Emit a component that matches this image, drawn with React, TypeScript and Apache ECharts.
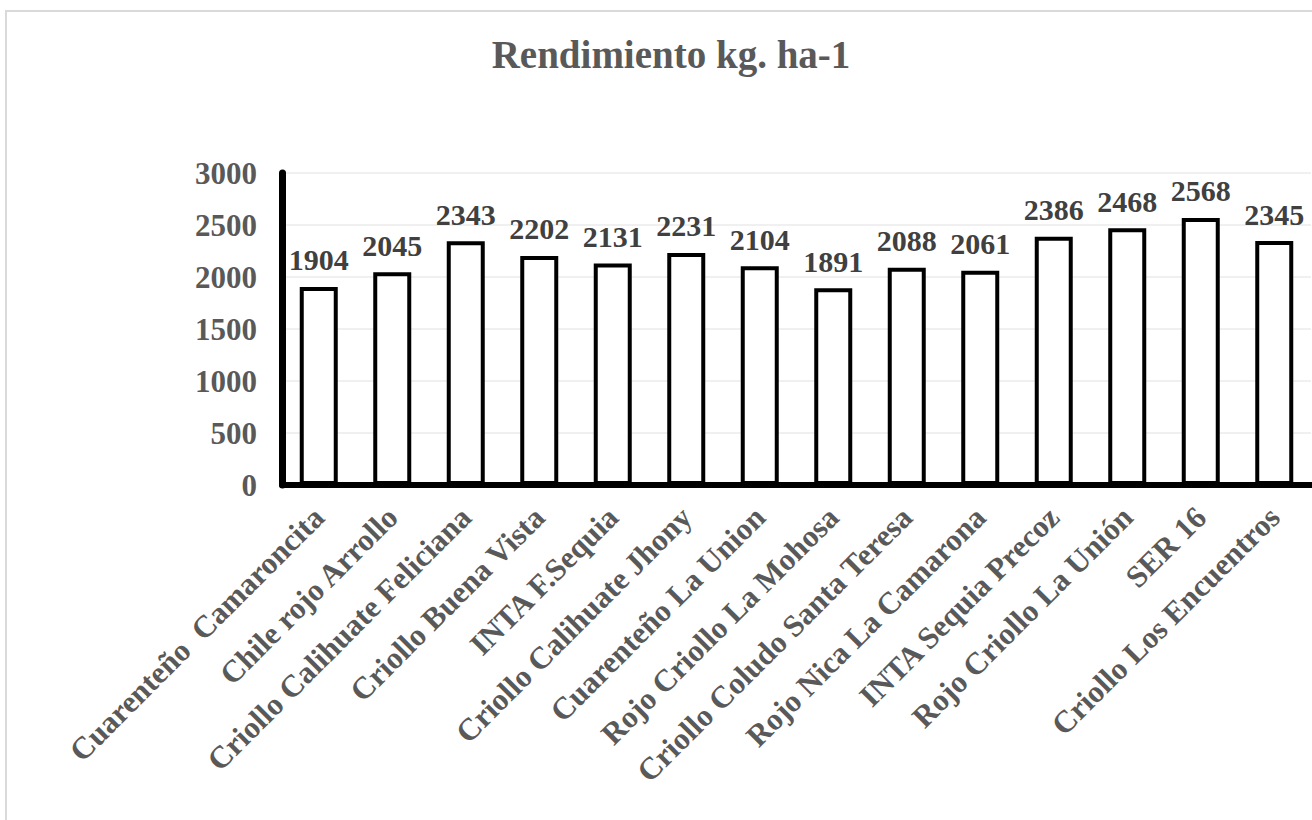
import React, { useEffect, useRef } from "react";
import * as echarts from "echarts";

const titleText = "Rendimiento kg. ha-1";
const categories = [
  "Cuarenteño  Camaroncita",
  "Chile rojo Arrollo",
  "Criollo Calihuate Feliciana",
  "Criollo Buena Vista",
  "INTA F.Sequia",
  "Criollo Calihuate Jhony",
  "Cuarenteño La Union",
  "Rojo Criollo La Mohosa",
  "Criollo Coludo Santa Teresa",
  "Rojo Nica La Camarona",
  "INTA Sequia Precoz",
  "Rojo Criollo La Unión",
  "SER 16",
  "Criollo Los Encuentros",
];
const yieldValues = [1904, 2045, 2343, 2202, 2131, 2231, 2104, 1891, 2088, 2061, 2386, 2468, 2568, 2345];
const yMin = 0;
const yMax = 3000;
const yInterval = 500;

const FONT = '"Liberation Serif", "Times New Roman", serif';

export default function App() {
  const ref = useRef<HTMLDivElement>(null);
  useEffect(() => {
    if (!ref.current) return;
    const chart = echarts.init(ref.current, undefined, { renderer: "svg" });
    chart.setOption({
      animation: false,
      backgroundColor: "#ffffff",
      title: {
        text: titleText,
        left: 666,
        textAlign: "center",
        top: 30,
        textStyle: {
          fontFamily: FONT,
          fontWeight: "bold",
          fontSize: 39,
          color: "#595959",
        },
      },
      graphic: [
        {
          type: "rect",
          silent: true,
          shape: { x: 6, y: 11, width: 1340, height: 840 },
          style: { fill: "none", stroke: "#d9d9d9", lineWidth: 2 },
          z: -10,
        },
      ],
      grid: { left: 282, right: 1, top: 173, bottom: 335, containLabel: false },
      xAxis: {
        type: "category",
        data: categories,
        axisLine: { show: true, lineStyle: { color: "#000000", width: 6 } },
        axisTick: { show: false },
        axisLabel: {
          rotate: 45,
          interval: 0,
          margin: 27,
          fontFamily: FONT,
          fontWeight: "bold",
          fontSize: 31,
          color: "#595959",
        },
        z: 5,
      },
      yAxis: {
        type: "value",
        min: yMin,
        max: yMax,
        interval: yInterval,
        axisLine: { show: true, lineStyle: { color: "#000000", width: 7 } },
        axisTick: { show: false },
        splitLine: { show: true, lineStyle: { color: "#f0f0f0", width: 2 } },
        axisLabel: {
          margin: 25,
          formatter: (v: number) => String(v),
          fontFamily: FONT,
          fontWeight: "bold",
          fontSize: 31,
          color: "#595959",
        },
      },
      series: [
        {
          type: "bar",
          data: yieldValues,
          barWidth: 38,
          itemStyle: { color: "#ffffff", borderColor: "#000000", borderWidth: 4 },
          label: {
            show: true,
            position: "top",
            distance: 12,
            fontFamily: FONT,
            fontWeight: "bold",
            fontSize: 30,
            color: "#404040",
          },
        },
      ],
    });
    return () => chart.dispose();
  }, []);
  return (
    <div
      ref={ref}
      style={{ position: "fixed", left: 0, top: 0, width: 1312, height: 820 }}
    />
  );
}
